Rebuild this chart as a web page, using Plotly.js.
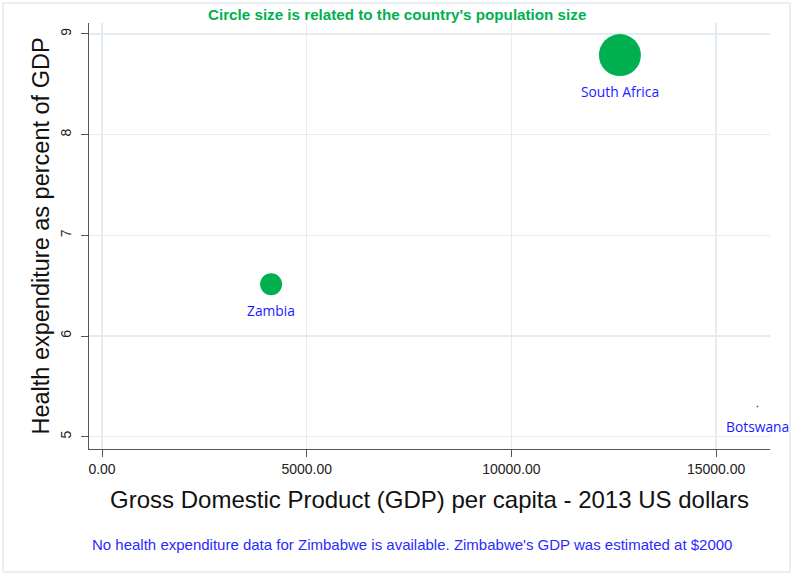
<!DOCTYPE html>
<html>
<head>
<meta charset="utf-8">
<script src="https://cdn.plot.ly/plotly-3.0.1.min.js"></script>
<style>html,body{margin:0;padding:0;background:#fff;}#chart{width:800px;height:576px;}</style>
</head>
<body>
<div id="chart"></div>
<script>
// Data
const countries = ["South Africa", "Zambia", "Botswana"];
const gdpPerCapita = [12650, 4130, 16010];          // 2013 US dollars
const healthExpPct = [8.79, 6.515, 5.30];             // % of GDP
const populationMillions = [53.0, 14.5, null];        // Botswana drawn as a tiny dot in the reference

const xTickVals = [0, 5000, 10000, 15000];
const yTickVals = [5, 6, 7, 8, 9];

const maxDiam = 42;
const refPop = Math.max(...populationMillions.filter(p => p != null));
const markerSizes = populationMillions.map(p => p == null ? 2 : Math.sqrt(p / refPop) * maxDiam);

const trace = {
  type: "scatter",
  mode: "markers",
  x: gdpPerCapita,
  y: healthExpPct,
  marker: {size: markerSizes, color: ["#00b050", "#00b050", "#1f9e8a"], opacity: 1, line: {width: 0}},
  hoverinfo: "skip",
  cliponaxis: false,
  showlegend: false
};

const W = 681, H = 426, L = 89, T = 23;
const px = v => (v - L) / W;
const py = v => (T + H - v) / H;

// country labels placed under each circle
const labelAnnotations = countries.map((c, i) => ({
  text: c, x: gdpPerCapita[i], y: healthExpPct[i], xref: "x", yref: "y",
  xanchor: "center", yanchor: "middle", showarrow: false,
  yshift: -(markerSizes[i] / 2 + 15 + (markerSizes[i] < 5 ? 4 : 0)),
  font: {family: "Open Sans, Noto Sans, sans-serif", size: 13.8, color: "#1a1aff"}
}));

const layout = {
  width: 800, height: 576,
  margin: {l: 89, r: 30, t: 23, b: 127},
  paper_bgcolor: "#ffffff",
  plot_bgcolor: "#ffffff",
  font: {family: "Liberation Sans, Arial, sans-serif", color: "#222"},
  xaxis: {
    range: [-318, 16316],
    tickvals: xTickVals,
    tickformat: ".2f",
    ticks: "outside", ticklen: 7, tickcolor: "#555",
    showline: true, linecolor: "#555", linewidth: 1,
    showgrid: true, gridcolor: "#e3ecf1", gridwidth: 1.5,
    zeroline: false,
    tickfont: {size: 14, color: "#222"},
    title: {text: "Gross Domestic Product (GDP) per capita - 2013 US dollars", font: {size: 24, color: "#111"}, standoff: 15}
  },
  yaxis: {
    range: [4.878, 9.109],
    tickvals: yTickVals,
    tickangle: -90,
    ticklabelstandoff: 4,
    ticks: "outside", ticklen: 7, tickcolor: "#555",
    showline: true, linecolor: "#555", linewidth: 1,
    showgrid: true, gridcolor: "#e3ecf1", gridwidth: 1.5,
    zeroline: false,
    tickfont: {size: 14, color: "#222"},
    title: {text: "Health expenditure as percent of GDP", font: {size: 23.5, color: "#111"}, standoff: 2}
  },
  annotations: [
    {text: "<b>Circle size is related to the country's population size</b>", xref: "paper", yref: "paper",
     x: px(397), y: py(14), xanchor: "center", yanchor: "middle", showarrow: false,
     font: {size: 15.2, color: "#00b050"}},
    {text: "No health expenditure data for Zimbabwe is available. Zimbabwe's GDP was estimated at $2000", xref: "paper", yref: "paper",
     x: px(412), y: py(544), xanchor: "center", yanchor: "middle", showarrow: false,
     font: {size: 15, color: "#2a2aff"}}
  ].concat(labelAnnotations),
  shapes: [
    {type: "rect", xref: "paper", yref: "paper", x0: px(3), x1: px(790), y0: py(572), y1: py(3),
     line: {color: "#e2ebf0", width: 1.5}, fillcolor: "rgba(0,0,0,0)", layer: "below"}
  ]
};

Plotly.newPlot("chart", [trace], layout, {staticPlot: true, displayModeBar: false});
</script>
</body>
</html>
